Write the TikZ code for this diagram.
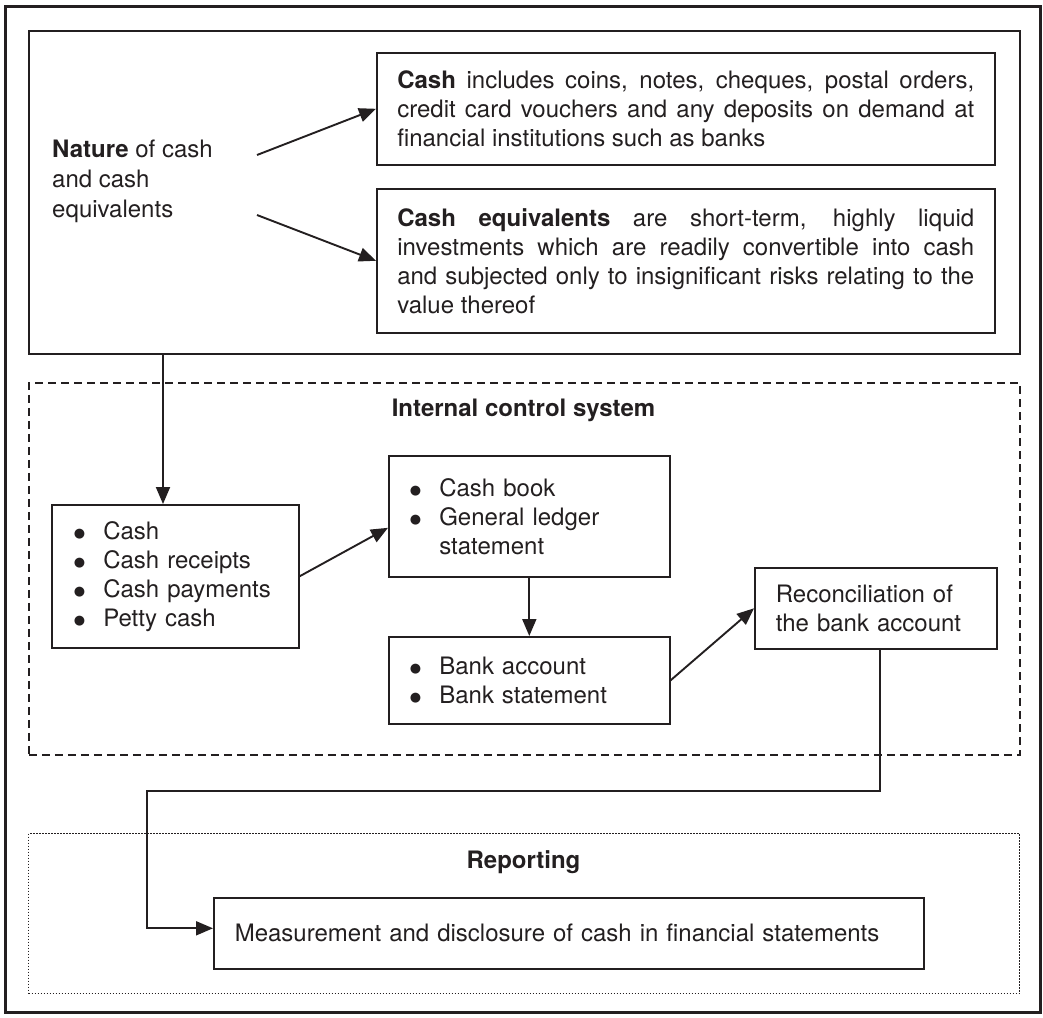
\documentclass[tikz,border=0pt]{standalone}
\usepackage{fontspec}
\setmainfont{TeX Gyre Heros}
\newfontfamily\symfont{DejaVu Sans}
\usetikzlibrary{arrows.meta}
\definecolor{ink}{RGB}{35,31,32}
% list bullet: a solid dot sitting on the x-height
\newcommand\bul{\makebox[29.5pt][l]{\raisebox{1.5pt}{\symfont\fontsize{13}{29}\selectfont ●}}}
\begin{document}
\begin{tikzpicture}[x=1pt,y=-1pt,
  every node/.style={text=ink, font=\fontsize{24}{29}\selectfont},
  box/.style={draw=ink, line width=1.6pt, anchor=north west, inner ysep=0pt},
  region/.style={draw=ink, anchor=north west, inner sep=0pt},
  title/.style={font=\fontsize{24}{29}\selectfont\bfseries, anchor=base},
  arr/.style={draw=ink, line width=1.9pt, -{Triangle[length=17pt,width=14pt]}}]
\useasboundingbox (0,0) rectangle (1043,1017);
% outer frame
\draw[ink, line width=3pt] (5,6) rectangle (1040,1012);

% nature of cash and cash equivalents
\node[region, line width=1.6pt, minimum width=991pt, minimum height=323pt] (top) at (28,30) {};
\node[anchor=north west, inner sep=0pt, align=left, font=\fontsize{24}{30}\selectfont] (nature) at (52,139.5)
  {\textbf{Nature} of cash\\and cash\\equivalents};
\node[box, minimum width=618pt, minimum height=112pt, text width=577pt, inner xsep=20.5pt, align=justify] (cash) at (376,52)
  {\textbf{Cash} includes coins, notes, cheques, postal orders,\linebreak
   credit card vouchers and any deposits on demand at\linebreak
   financial institutions such as banks};
\node[box, minimum width=618pt, minimum height=144pt, text width=577pt, inner xsep=20.5pt, align=justify] (equiv) at (376,188)
  {\textbf{Cash equivalents} are short-term, highly liquid\linebreak
   investments which are readily convertible into cash\linebreak
   and subjected only to insignificant risks relating to the\linebreak
   value thereof};
\coordinate (n1) at (257,155);
\coordinate (n2) at (257,215);
\draw[arr] (n1) -- (cash.west);
\draw[arr] (n2) -- (equiv.west);

% internal control system
\node[region, line width=1.5pt, dash pattern=on 8pt off 5pt, minimum width=991pt, minimum height=372pt] (ics) at (28,382) {};
\node[title] (icstitle) at (523.5,416) {Internal control system};
\node[box, minimum width=247pt, minimum height=143pt, text width=203pt, inner xsep=22pt, align=left] (list) at (51,504)
  {\bul Cash\\\bul Cash receipts\\\bul Cash payments\\\bul Petty cash};
\node[box, minimum width=281pt, minimum height=121pt, text width=239pt, inner xsep=21pt, align=left] (book) at (388,455)
  {\bul Cash book\\\bul General ledger\\\hspace*{29.5pt}statement};
\node[box, minimum width=281pt, minimum height=87pt, text width=239pt, inner xsep=21pt, align=left] (bank) at (388,636)
  {\bul Bank account\\\bul Bank statement};
\node[box, minimum width=242pt, minimum height=81pt, text width=200pt, inner xsep=21pt, align=left] (recon) at (754,567)
  {Reconciliation of\\the bank account};

% reporting
\node[region, line width=1.2pt, dash pattern=on 1.5pt off 1.5pt, minimum width=991pt, minimum height=160pt] (rep) at (28,833) {};
\node[title] (reptitle) at (523.5,868) {Reporting};
\node[box, minimum width=710pt, minimum height=71pt, text width=668pt, inner xsep=21pt, align=left] (meas) at (213,897)
  {Measurement and disclosure of cash in financial statements};

% connectors
\coordinate (v1) at (163,0);
\coordinate (r1) at (147,791);
\draw[arr] (top.south -| v1) -- (list.north -| v1);
\draw[arr] (list.east) -- ([yshift=-11.5pt]book.west);
\draw[arr] (book.south) -- (bank.north);
\draw[arr] (bank.east) -- (recon.west);
\draw[arr] ([xshift=4pt]recon.south) |- (r1) |- ([yshift=5pt]meas.west);
\end{tikzpicture}
\end{document}
